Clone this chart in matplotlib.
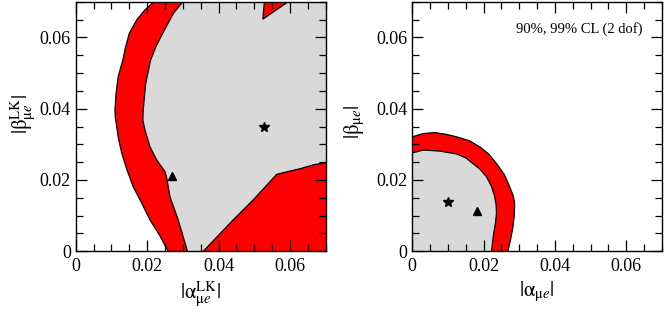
import matplotlib
matplotlib.use("Agg")
import matplotlib.pyplot as plt
from matplotlib.ticker import MultipleLocator

plt.rcParams['font.family'] = ['Liberation Serif', 'DejaVu Serif']
plt.rcParams['mathtext.fontset'] = 'stix'

# --- panel 1: LK couplings ---
# 99% CL region (red), outer boundary, closed outside the frame
lk99_x = [0.0259, 0.0235, 0.0208, 0.0185, 0.0161, 0.0143, 0.0129, 0.0119, 0.0115, 0.0111,
          0.0110, 0.0113, 0.0119, 0.0126, 0.0132, 0.0139, 0.0150, 0.0171, 0.0194, 0.0219, 0.0225,
          0.075, 0.075, 0.0259]
lk99_y = [0.0, 0.0045, 0.0088, 0.0135, 0.0181, 0.0230, 0.0275, 0.0320, 0.0349, 0.0375,
          0.0397, 0.0443, 0.0490, 0.0515, 0.0536, 0.0570, 0.0611, 0.0649, 0.0677, 0.0700, 0.0720,
          0.0720, -0.002, -0.002]

# 90% CL region (grey)
lk90_x = [0.0313, 0.0287, 0.0264, 0.0255, 0.0250, 0.0227, 0.0208, 0.0194, 0.0188,
          0.0189, 0.0196, 0.0210, 0.0225, 0.0244, 0.0274, 0.0300, 0.0303,
          0.0530, 0.0524, 0.0595, 0.0600, 0.075,
          0.075, 0.0700, 0.0667, 0.0630, 0.0592, 0.0563, 0.0530, 0.0497, 0.0441, 0.0400, 0.0357,
          0.0357, 0.0313]
lk90_y = [0.0, 0.0088, 0.0153, 0.0205, 0.0223, 0.0256, 0.0293, 0.0340, 0.0368,
          0.0397, 0.0471, 0.0537, 0.0575, 0.0612, 0.0668, 0.0700, 0.0720,
          0.0720, 0.0651, 0.0700, 0.0720, 0.0720,
          0.0248, 0.0248, 0.0243, 0.0232, 0.0223, 0.0216, 0.0180, 0.0144, 0.0088, 0.0045, 0.0,
          -0.002, -0.002]

lk_star = (0.0527, 0.0348)
lk_tri = (0.0269, 0.0211)

# --- panel 2: non-unitarity ---
nu99_x = [-0.002, 0.0, 0.0030, 0.0063, 0.0095, 0.0124, 0.0160, 0.0189, 0.0215, 0.0236,
          0.0258, 0.0273, 0.0283, 0.0287, 0.0286, 0.0282, 0.0276, 0.0268, 0.0268, -0.002]
nu99_y = [0.0321, 0.0321, 0.0330, 0.0333, 0.0328, 0.0321, 0.0310, 0.0293, 0.0272, 0.0246,
          0.0215, 0.0181, 0.0155, 0.0134, 0.0100, 0.0068, 0.0035, 0.0, -0.002, -0.002]

nu90_x = [-0.002, 0.0, 0.0031, 0.0077, 0.0124, 0.0150, 0.0170, 0.0190, 0.0208, 0.0222,
          0.0231, 0.0235, 0.0236, 0.0233, 0.0228, 0.0222, 0.0222, -0.002]
nu90_y = [0.0276, 0.0276, 0.0284, 0.0281, 0.0273, 0.0262, 0.0246, 0.0230, 0.0209, 0.0182,
          0.0153, 0.0130, 0.0106, 0.0078, 0.0050, 0.0, -0.002, -0.002]

nu_star = (0.0101, 0.0137)
nu_tri = (0.0180, 0.0112)

fig = plt.figure(figsize=(6.64, 3.09), dpi=100)
ax1 = fig.add_axes([75.7 / 664, 1 - 251.3 / 309, 250 / 664, 249.6 / 309])
ax2 = fig.add_axes([412.3 / 664, 1 - 251.3 / 309, 249.7 / 664, 249.6 / 309])

panels = [
    (ax1, lk99_x, lk99_y, lk90_x, lk90_y, lk_star, lk_tri,
     r'$|\mathrm{\alpha}^{\mathrm{LK}}_{\mathrm{\mu}e}|$', r'$|\mathrm{\beta}^{\mathrm{LK}}_{\mathrm{\mu}e}|$',
     (-0.15, 0.55)),
    (ax2, nu99_x, nu99_y, nu90_x, nu90_y, nu_star, nu_tri,
     r'$|\mathrm{\alpha}_{\mathrm{\mu}e}|$', r'$|\mathrm{\beta}_{\mathrm{\mu}e}|$',
     (-0.18, 0.52)),
]

fmt = plt.FuncFormatter(lambda v, p: '0' if abs(v) < 1e-9 else f'{v:.2f}')

for ax, x99, y99, x90, y90, star, tri, xl, yl, lab_pos in panels:
    ax.fill(x99, y99, facecolor='#ff0000', edgecolor='black', linewidth=0.9)
    ax.fill(x90, y90, facecolor='#d9d9d9', edgecolor='black', linewidth=0.9)
    ax.plot(*star, marker='*', color='black', markersize=7.5, linestyle='none')
    ax.plot(*tri, marker='^', color='black', markersize=6, linestyle='none')
    ax.set_xlim(0, 0.07)
    ax.set_ylim(0, 0.07)
    ax.xaxis.set_major_locator(MultipleLocator(0.02))
    ax.xaxis.set_minor_locator(MultipleLocator(0.005))
    ax.yaxis.set_major_locator(MultipleLocator(0.02))
    ax.yaxis.set_minor_locator(MultipleLocator(0.005))
    ax.xaxis.set_major_formatter(fmt)
    ax.yaxis.set_major_formatter(fmt)
    ax.tick_params(which='both', direction='in', top=True, right=True, labelsize=13, width=0.9)
    ax.tick_params(which='major', length=8)
    ax.tick_params(axis='x', which='major', pad=5)
    ax.tick_params(which='minor', length=5)
    for s in ax.spines.values():
        s.set_linewidth(1.0)
    ax.set_xlabel(xl, fontsize=15, labelpad=3)
    ax.set_ylabel(yl, fontsize=15)
    ax.yaxis.set_label_coords(*lab_pos)

ax2.text(0.92, 0.89, '90%, 99% CL (2 dof)', transform=ax2.transAxes, ha='right', va='center', fontsize=10.5)

fig.savefig('out.png', dpi=100)
